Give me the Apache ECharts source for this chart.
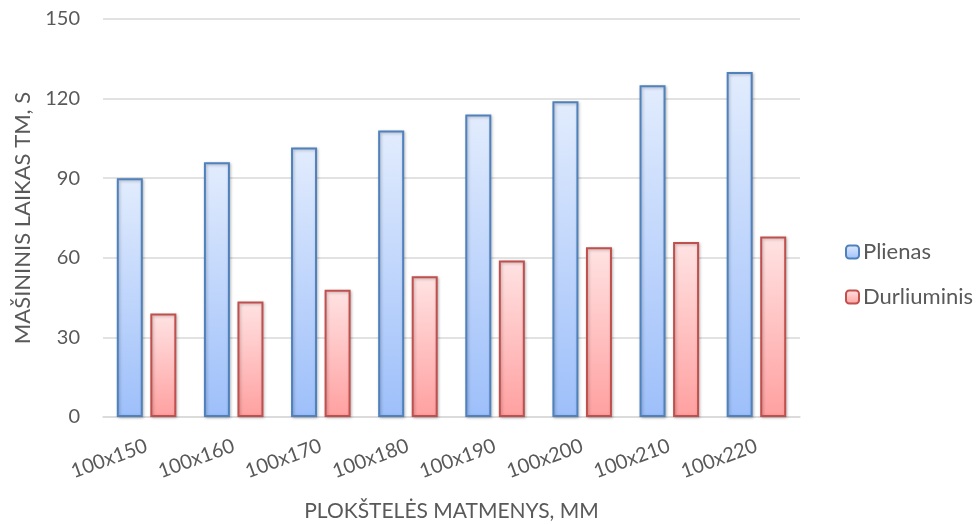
<!DOCTYPE html>
<html>
<head>
<meta charset="utf-8">
<script src="https://cdn.jsdelivr.net/npm/echarts@6/dist/echarts.min.js"></script>
<style>
  html, body { margin: 0; padding: 0; background: #fff; }
  #chart { width: 978px; height: 524px; }
</style>
</head>
<body>
<div id="chart"></div>
<script>
// Plate sizes and machining times for two materials
const categories = ['100x150', '100x160', '100x170', '100x180', '100x190', '100x200', '100x210', '100x220'];
const plienas = [90, 96, 101.6, 108, 114, 119, 125, 130];
const durliuminis = [39, 43.5, 48, 53, 59, 64, 66, 68];
const yTicks = { min: 0, max: 150, interval: 30 };

const FONT = 'Lato, "Open Sans", sans-serif';
const TEXT = '#595959';

function grad(top, bottom) {
  return new echarts.graphic.LinearGradient(0, 0, 0, 1, [
    { offset: 0, color: top },
    { offset: 1, color: bottom }
  ]);
}

const chart = echarts.init(document.getElementById('chart'));
chart.setOption({
  animation: false,
  textStyle: { fontFamily: FONT },
  grid: { left: 103, right: 178, top: 19, bottom: 107, containLabel: false, outerBoundsMode: 'none' },
  legend: {
    orient: 'vertical',
    left: 840,
    top: 236,
    itemGap: 23,
    itemWidth: 13,
    itemHeight: 13,
    textStyle: { fontFamily: FONT, fontSize: 22, color: TEXT, padding: [0, 0, 0, -1] },
    data: ['Plienas', 'Durliuminis']
  },
  xAxis: {
    type: 'category',
    data: categories,
    name: 'PLOKŠTELĖS MATMENYS, MM',
    nameLocation: 'middle',
    nameGap: 84,
    nameTextStyle: { fontFamily: FONT, fontSize: 21, color: TEXT },
    axisLine: { lineStyle: { color: '#d9d9d9', width: 1.5 } },
    axisTick: { show: false },
    axisLabel: { rotate: 20, fontFamily: FONT, fontSize: 20, color: TEXT, margin: 28 }
  },
  yAxis: {
    type: 'value',
    min: yTicks.min,
    max: yTicks.max,
    interval: yTicks.interval,
    name: 'MAŠININIS LAIKAS TM, S',
    nameLocation: 'middle',
    nameGap: 67,
    nameTextStyle: { fontFamily: FONT, fontSize: 22, color: TEXT },
    axisLine: { show: false },
    axisTick: { show: false },
    axisLabel: { fontFamily: FONT, fontSize: 20, color: TEXT, margin: 23 },
    splitLine: { lineStyle: { color: '#d9d9d9', width: 1.5 } }
  },
  series: [
    {
      name: 'Plienas',
      type: 'bar',
      data: plienas,
      barWidth: 26,
      barGap: '29%',
      itemStyle: {
        color: grad('#e2ecfd', '#9dbffa'),
        borderColor: '#4f81bd',
        borderWidth: 2,
        shadowBlur: 3,
        shadowColor: 'rgba(0,0,0,0.25)',
        shadowOffsetX: 1,
        shadowOffsetY: 1
      }
    },
    {
      name: 'Durliuminis',
      type: 'bar',
      data: durliuminis,
      barWidth: 26,
      barGap: '29%',
      itemStyle: {
        color: grad('#ffe3e3', '#ffa0a0'),
        borderColor: '#c0504d',
        borderWidth: 2,
        shadowBlur: 3,
        shadowColor: 'rgba(0,0,0,0.25)',
        shadowOffsetX: 1,
        shadowOffsetY: 1
      }
    }
  ]
});
</script>
</body>
</html>
